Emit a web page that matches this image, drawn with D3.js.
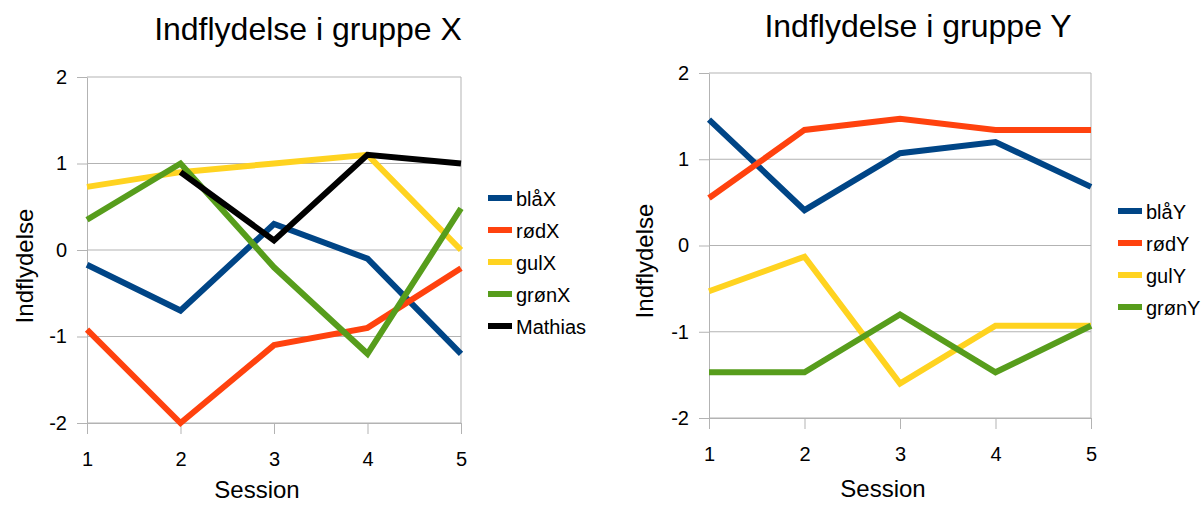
<!DOCTYPE html>
<html>
<head>
<meta charset="utf-8">
<script src="https://cdn.jsdelivr.net/npm/d3@7"></script>
<style>
  html, body { margin: 0; padding: 0; background: #fff; }
  svg { display: block; font-family: "Liberation Sans", Arial, sans-serif; }
</style>
</head>
<body>
<svg id="chart" width="1204" height="505"></svg>
<script>
// ---- data ----
const sessions = [1, 2, 3, 4, 5];
const yTicks = [-2, -1, 0, 1, 2];

const seriesNamesX = ["blåX", "rødX", "gulX", "grønX", "Mathias"];
const blaaX   = [-0.17, -0.7, 0.3, -0.1, -1.2];
const roedX   = [-0.92, -2.0, -1.1, -0.9, -0.21];
const gulX    = [0.73, 0.9, 1.0, 1.1, 0.0];
const groenX  = [0.35, 1.0, -0.2, -1.2, 0.48];
const mathias = [null, 0.9, 0.11, 1.1, 1.0];

const seriesNamesY = ["blåY", "rødY", "gulY", "grønY"];
const blaaY  = [1.46, 0.41, 1.07, 1.2, 0.68];
const roedY  = [0.55, 1.34, 1.47, 1.34, 1.34];
const gulY   = [-0.53, -0.13, -1.6, -0.93, -0.93];
const groenY = [-1.47, -1.47, -0.8, -1.47, -0.93];

const colorsX = ["#004586", "#ff420e", "#ffd320", "#579d1c", "#000000"];
const colorsY = ["#004586", "#ff420e", "#ffd320", "#579d1c"];

// ---- drawing ----
const svg = d3.select("#chart");

function drawChart(cfg) {
  const g = svg.append("g");
  const x = d3.scaleLinear().domain([1, 5]).range([cfg.left, cfg.right]);
  const y = d3.scaleLinear().domain([-2, 2]).range([cfg.bottom, cfg.top]);

  // gridlines
  g.append("g").selectAll("line").data(yTicks).join("line")
    .attr("x1", cfg.left).attr("x2", cfg.right)
    .attr("y1", d => y(d)).attr("y2", d => y(d))
    .attr("stroke", "#b3b3b3").attr("stroke-width", 1);
  // right border
  g.append("line")
    .attr("x1", cfg.right).attr("x2", cfg.right)
    .attr("y1", cfg.top).attr("y2", cfg.bottom)
    .attr("stroke", "#b3b3b3");

  // y axis
  const ya = g.append("g").attr("transform", `translate(${cfg.left},0)`)
    .call(d3.axisLeft(y).tickValues(yTicks).tickSize(10).tickSizeOuter(0)
      .tickPadding(10).tickFormat(d => String(d)));
  // x axis
  const xa = g.append("g").attr("transform", `translate(0,${cfg.bottom})`)
    .call(d3.axisBottom(x).tickValues(sessions).tickSize(11).tickSizeOuter(0)
      .tickPadding(18).tickFormat(d => String(d)));
  [ya, xa].forEach(a => {
    a.select(".domain").attr("stroke", "#b3b3b3");
    a.selectAll(".tick line").attr("stroke", "#b3b3b3");
    a.selectAll(".tick text").attr("fill", "#000")
      .style("font-family", "Liberation Sans, Arial, sans-serif")
      .style("font-size", "20px");
  });

  // lines
  const line = d3.line()
    .defined(d => d.v !== null)
    .x(d => x(d.s)).y(d => y(d.v));
  cfg.series.forEach((vals, i) => {
    g.append("path")
      .datum(vals.map((v, j) => ({ s: sessions[j], v })))
      .attr("d", line)
      .attr("fill", "none")
      .attr("stroke", cfg.colors[i])
      .attr("stroke-width", 6)
      .attr("stroke-linejoin", "miter")
      .attr("stroke-linecap", "butt");
  });

  // title
  g.append("text")
    .attr("x", cfg.titleX).attr("y", cfg.titleY)
    .attr("text-anchor", "middle")
    .style("font-size", "32px")
    .text(cfg.title);

  // axis titles
  g.append("text")
    .attr("transform", `translate(${cfg.yTitleX},${cfg.yTitleY}) rotate(-90)`)
    .attr("text-anchor", "middle")
    .style("font-size", "24px")
    .text("Indflydelse");
  g.append("text")
    .attr("x", cfg.xTitleX).attr("y", cfg.xTitleY)
    .attr("text-anchor", "middle")
    .style("font-size", "24px")
    .text("Session");

  // legend
  const lg = g.append("g");
  cfg.names.forEach((n, i) => {
    const cy = cfg.legY + i * 32;
    lg.append("rect")
      .attr("x", cfg.legX).attr("y", cy - 3)
      .attr("width", 24).attr("height", 6)
      .attr("fill", cfg.colors[i]);
    lg.append("text")
      .attr("x", cfg.legX + 28).attr("y", cy + 8)
      .style("font-size", "20px")
      .text(n);
  });
}

drawChart({
  left: 87, right: 461, top: 77, bottom: 423,
  series: [blaaX, roedX, gulX, groenX, mathias],
  colors: colorsX, names: seriesNamesX,
  title: "Indflydelse i gruppe X", titleX: 308, titleY: 40,
  yTitleX: 33, yTitleY: 266,
  xTitleX: 257, xTitleY: 498,
  legX: 488, legY: 198
});

drawChart({
  left: 709, right: 1091, top: 73, bottom: 418,
  series: [blaaY, roedY, gulY, groenY],
  colors: colorsY, names: seriesNamesY,
  title: "Indflydelse i gruppe Y", titleX: 918, titleY: 37,
  yTitleX: 653, yTitleY: 261,
  xTitleX: 883, xTitleY: 497,
  legX: 1118, legY: 211
});
</script>
</body>
</html>
